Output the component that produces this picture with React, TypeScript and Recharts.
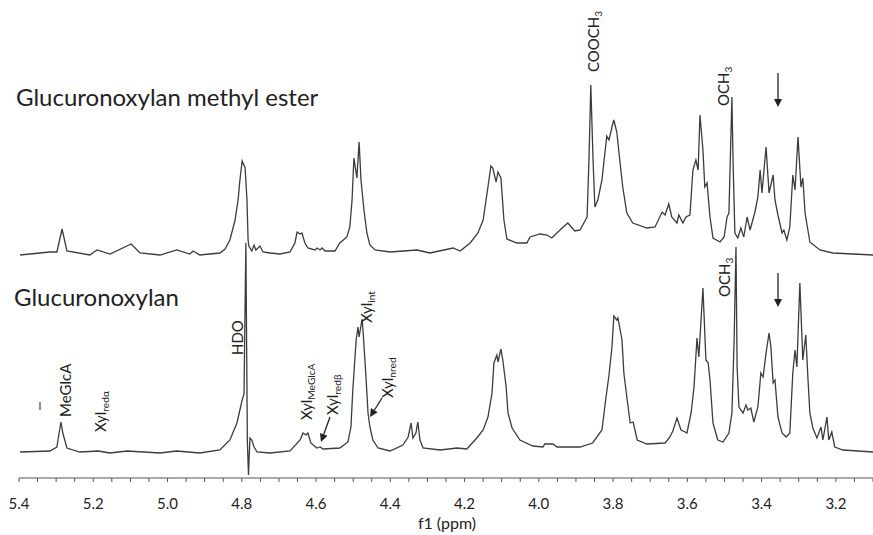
import React from 'react';
import { LineChart, Line, XAxis, YAxis } from 'recharts';

// [ppm, intensity] (methyl ester)
const esterSpectrum: [number, number][] = [
  [5.397, 0], [5.317, 3], [5.298, 3], [5.284, 26], [5.271, 4], [5.209, 0], [5.19, 5],
  [5.155, 1], [5.098, 11], [5.074, 2], [5.02, 0], [4.975, 5], [4.94, 1], [4.931, 4],
  [4.913, 0], [4.859, 2], [4.845, 6], [4.832, 15], [4.818, 35], [4.81, 55], [4.805, 75],
  [4.799, 94], [4.791, 87], [4.786, 55], [4.783, 15], [4.781, 9], [4.773, 4], [4.767, 10],
  [4.762, 5], [4.751, 9], [4.743, 3], [4.724, 2], [4.697, 1], [4.67, 3], [4.657, 12],
  [4.651, 23], [4.643, 21], [4.638, 22], [4.63, 12], [4.622, 7], [4.603, 5], [4.597, 7],
  [4.589, 5], [4.584, 7], [4.576, 4], [4.549, 4], [4.536, 12], [4.517, 18], [4.509, 28],
  [4.503, 55], [4.498, 97], [4.49, 77], [4.484, 113], [4.479, 75], [4.471, 45], [4.463, 22],
  [4.455, 10], [4.441, 5], [4.401, 3], [4.328, 5], [4.293, 2], [4.231, 7], [4.212, 4],
  [4.185, 12], [4.164, 22], [4.15, 35], [4.137, 68], [4.129, 89], [4.124, 87], [4.115, 73],
  [4.11, 83], [4.102, 77], [4.094, 35], [4.086, 16], [4.059, 12], [4.032, 12], [4.024, 18],
  [3.997, 21], [3.978, 20], [3.965, 17], [3.943, 25], [3.922, 32], [3.903, 24], [3.889, 25],
  [3.87, 38], [3.865, 95], [3.86, 170], [3.854, 95], [3.849, 48], [3.841, 55], [3.83, 75],
  [3.825, 92], [3.817, 119], [3.811, 115], [3.803, 128], [3.798, 135], [3.79, 123],
  [3.782, 95], [3.774, 68], [3.763, 42], [3.747, 32], [3.709, 27], [3.687, 28], [3.668, 43],
  [3.66, 40], [3.65, 51], [3.642, 38], [3.628, 32], [3.623, 40], [3.612, 32], [3.604, 38],
  [3.593, 40], [3.585, 85], [3.577, 95], [3.571, 85], [3.566, 140], [3.558, 105],
  [3.553, 68], [3.547, 72], [3.539, 38], [3.531, 17], [3.512, 13], [3.501, 18], [3.493, 38],
  [3.488, 42], [3.48, 158], [3.477, 95], [3.472, 22], [3.464, 17], [3.456, 27], [3.448, 18],
  [3.439, 38], [3.431, 25], [3.418, 43], [3.41, 58], [3.404, 85], [3.399, 62], [3.388, 108],
  [3.38, 62], [3.369, 80], [3.364, 55], [3.356, 40], [3.345, 22], [3.34, 25], [3.332, 15],
  [3.324, 28], [3.316, 80], [3.31, 65], [3.302, 118], [3.294, 68], [3.289, 77], [3.283, 42],
  [3.27, 13], [3.243, 5], [3.208, 2], [3.1, 0],
];

// [ppm, intensity] (glucuronoxylan)
const xylanSpectrum: [number, number][] = [
  [5.397, 1], [5.317, 2], [5.298, 6], [5.292, 20], [5.287, 31], [5.282, 20], [5.271, 5],
  [5.236, 1], [5.187, 2], [5.155, 0], [5.109, 2], [5.02, 0], [4.975, 2], [4.913, 0],
  [4.859, 3], [4.832, 13], [4.813, 30], [4.799, 53], [4.794, 59], [4.789, 210], [4.785, 13],
  [4.782, -22], [4.778, 15], [4.773, 13], [4.767, 6], [4.759, 1], [4.724, 0], [4.67, 2],
  [4.643, 13], [4.635, 20], [4.627, 18], [4.622, 20], [4.614, 10], [4.598, 5], [4.589, 6],
  [4.581, 4], [4.536, 5], [4.514, 11], [4.506, 26], [4.501, 63], [4.492, 113], [4.487, 126],
  [4.484, 116], [4.476, 134], [4.473, 120], [4.465, 73], [4.46, 40], [4.455, 26],
  [4.447, 13], [4.433, 5], [4.401, 2], [4.366, 8], [4.352, 16], [4.344, 30], [4.339, 15],
  [4.331, 20], [4.326, 31], [4.32, 13], [4.312, 5], [4.266, 3], [4.22, 5], [4.194, 4],
  [4.167, 15], [4.15, 23], [4.137, 36], [4.126, 60], [4.121, 90], [4.113, 98], [4.11, 91],
  [4.102, 104], [4.097, 93], [4.088, 66], [4.083, 40], [4.072, 25], [4.051, 13], [4.016, 7],
  [3.989, 6], [3.984, 9], [3.962, 9], [3.951, 6], [3.889, 6], [3.855, 10], [3.83, 23],
  [3.819, 56], [3.811, 78], [3.803, 106], [3.798, 137], [3.79, 133], [3.787, 135],
  [3.776, 113], [3.771, 80], [3.763, 56], [3.754, 30], [3.746, 31], [3.735, 13], [3.709, 9],
  [3.66, 10], [3.647, 16], [3.639, 22], [3.628, 35], [3.617, 23], [3.606, 21], [3.601, 20],
  [3.59, 40], [3.582, 66], [3.574, 115], [3.569, 96], [3.558, 165], [3.55, 93], [3.544, 90],
  [3.539, 73], [3.531, 30], [3.518, 13], [3.504, 11], [3.488, 20], [3.48, 40], [3.474, 113],
  [3.469, 206], [3.466, 86], [3.461, 46], [3.45, 40], [3.442, 48], [3.437, 43], [3.429, 45],
  [3.421, 31], [3.41, 46], [3.402, 80], [3.396, 76], [3.388, 100], [3.38, 120], [3.375, 106],
  [3.369, 70], [3.364, 73], [3.356, 36], [3.345, 20], [3.334, 16], [3.324, 20], [3.316, 80],
  [3.31, 103], [3.305, 86], [3.297, 170], [3.289, 93], [3.286, 103], [3.281, 118],
  [3.275, 73], [3.27, 40], [3.262, 25], [3.251, 15], [3.24, 26], [3.235, 13], [3.224, 36],
  [3.219, 13], [3.211, 21], [3.203, 6], [3.181, 3], [3.1, 1],
];

const majorTicks = [5.4, 5.2, 5.0, 4.8, 4.6, 4.4, 4.2, 4.0, 3.8, 3.6, 3.4, 3.2];

const allTicks: number[] = [];
for (let i = 0; i <= 46; i++) allTicks.push(Math.round((3.1 + i * 0.05) * 100) / 100);

const esterData = esterSpectrum.map(([ppm, y]) => ({ ppm, y }));
const xylanData = xylanSpectrum.map(([ppm, y]) => ({ ppm, y }));

const FONT = 'Lato, "Open Sans", sans-serif';
const INK = '#222';
const TRACE = '#3c3c3c';

const TickLabel = (props: any) => {
  const { x, payload } = props;
  const v = payload.value;
  if (!majorTicks.some((m) => Math.abs(m - v) < 1e-6)) return <g />;
  return (
    <text x={x} y={509} textAnchor="middle" fontSize={15} fontFamily={FONT} fill={INK}>
      {v.toFixed(1)}
    </text>
  );
};

// rotated label: (x, y) is the baseline start, text reads bottom to top
const VLabel = ({ x, y, main, sub, size = 15 }: { x: number; y: number; main: string; sub?: string; size?: number }) => (
  <text transform={`translate(${x},${y}) rotate(-90)`} fontSize={size} fontFamily={FONT} fill={INK}>
    {main}
    {sub && (
      <tspan fontSize={size * 0.68} dy={3}>
        {sub}
      </tspan>
    )}
  </text>
);

const Arrow = ({ x1, y1, x2, y2 }: { x1: number; y1: number; x2: number; y2: number }) => {
  const a = Math.atan2(y2 - y1, x2 - x1);
  const L = 8;
  const W = 4;
  const bx = x2 - L * Math.cos(a);
  const by = y2 - L * Math.sin(a);
  const px = -Math.sin(a) * W;
  const py = Math.cos(a) * W;
  return (
    <g>
      <line x1={x1} y1={y1} x2={bx} y2={by} stroke={INK} strokeWidth={1.3} />
      <polygon points={`${x2},${y2} ${bx + px},${by + py} ${bx - px},${by - py}`} fill={INK} />
    </g>
  );
};

export default function App() {
  return (
    <div style={{ position: 'relative', width: 873, height: 535, background: '#fff' }}>
      <style>{'body{margin:0}'}</style>
      <LineChart width={873} height={535} margin={{ top: 0, right: 0, left: 19, bottom: 0 }}>
        <XAxis
          type="number"
          dataKey="ppm"
          domain={[3.1, 5.4]}
          reversed
          allowDataOverflow
          ticks={allTicks}
          interval={0}
          height={57}
          tickSize={4}
          tick={<TickLabel />}
          stroke="#555"
          tickLine={{ stroke: '#555' }}
        />
        <YAxis yAxisId="upper" hide domain={[-223, 255]} allowDataOverflow />
        <YAxis yAxisId="lower" hide domain={[-25, 453]} allowDataOverflow />
        <Line
          yAxisId="upper"
          data={esterData}
          dataKey="y"
          type="linear"
          dot={false}
          stroke={TRACE}
          strokeWidth={1.3}
          isAnimationActive={false}
        />
        <Line
          yAxisId="lower"
          data={xylanData}
          dataKey="y"
          type="linear"
          dot={false}
          stroke={TRACE}
          strokeWidth={1.3}
          isAnimationActive={false}
        />
      </LineChart>
      <svg width={873} height={535} style={{ position: 'absolute', left: 0, top: 0, pointerEvents: 'none' }}>
        <text x={16} y={106} fontSize={24} fontFamily={FONT} fill={INK}>
          Glucuronoxylan methyl ester
        </text>
        <text x={14} y={306} fontSize={24} fontFamily={FONT} fill={INK}>
          Glucuronoxylan
        </text>
        <text x={447} y={529} textAnchor="middle" fontSize={16} fontFamily={FONT} fill={INK}>
          f1 (ppm)
        </text>

        <VLabel x={599} y={72} main="COOCH" sub="3" />
        <VLabel x={729} y={106} main="OCH" sub="3" />
        <Arrow x1={778} y1={73} x2={778} y2={107} />

        <VLabel x={730} y={297} main="OCH" sub="3" />
        <Arrow x1={778} y1={273} x2={778} y2={307} />
        <VLabel x={243} y={355} main="HDO" />
        <VLabel x={71} y={417} main="MeGlcA" />
        <line x1={40} y1={402} x2={40} y2={410} stroke={INK} strokeWidth={1} />
        <VLabel x={106} y={432} main="Xyl" sub="redα" />
        <VLabel x={312} y={420} main="Xyl" sub="MeGlcA" />
        <VLabel x={338} y={415} main="Xyl" sub="redβ" />
        <Arrow x1={330} y1={417} x2={321} y2={442} />
        <VLabel x={372} y={323} main="Xyl" sub="int" />
        <VLabel x={393} y={398} main="Xyl" sub="nred" />
        <Arrow x1={382} y1={398} x2={370} y2={417} />
      </svg>
    </div>
  );
}
